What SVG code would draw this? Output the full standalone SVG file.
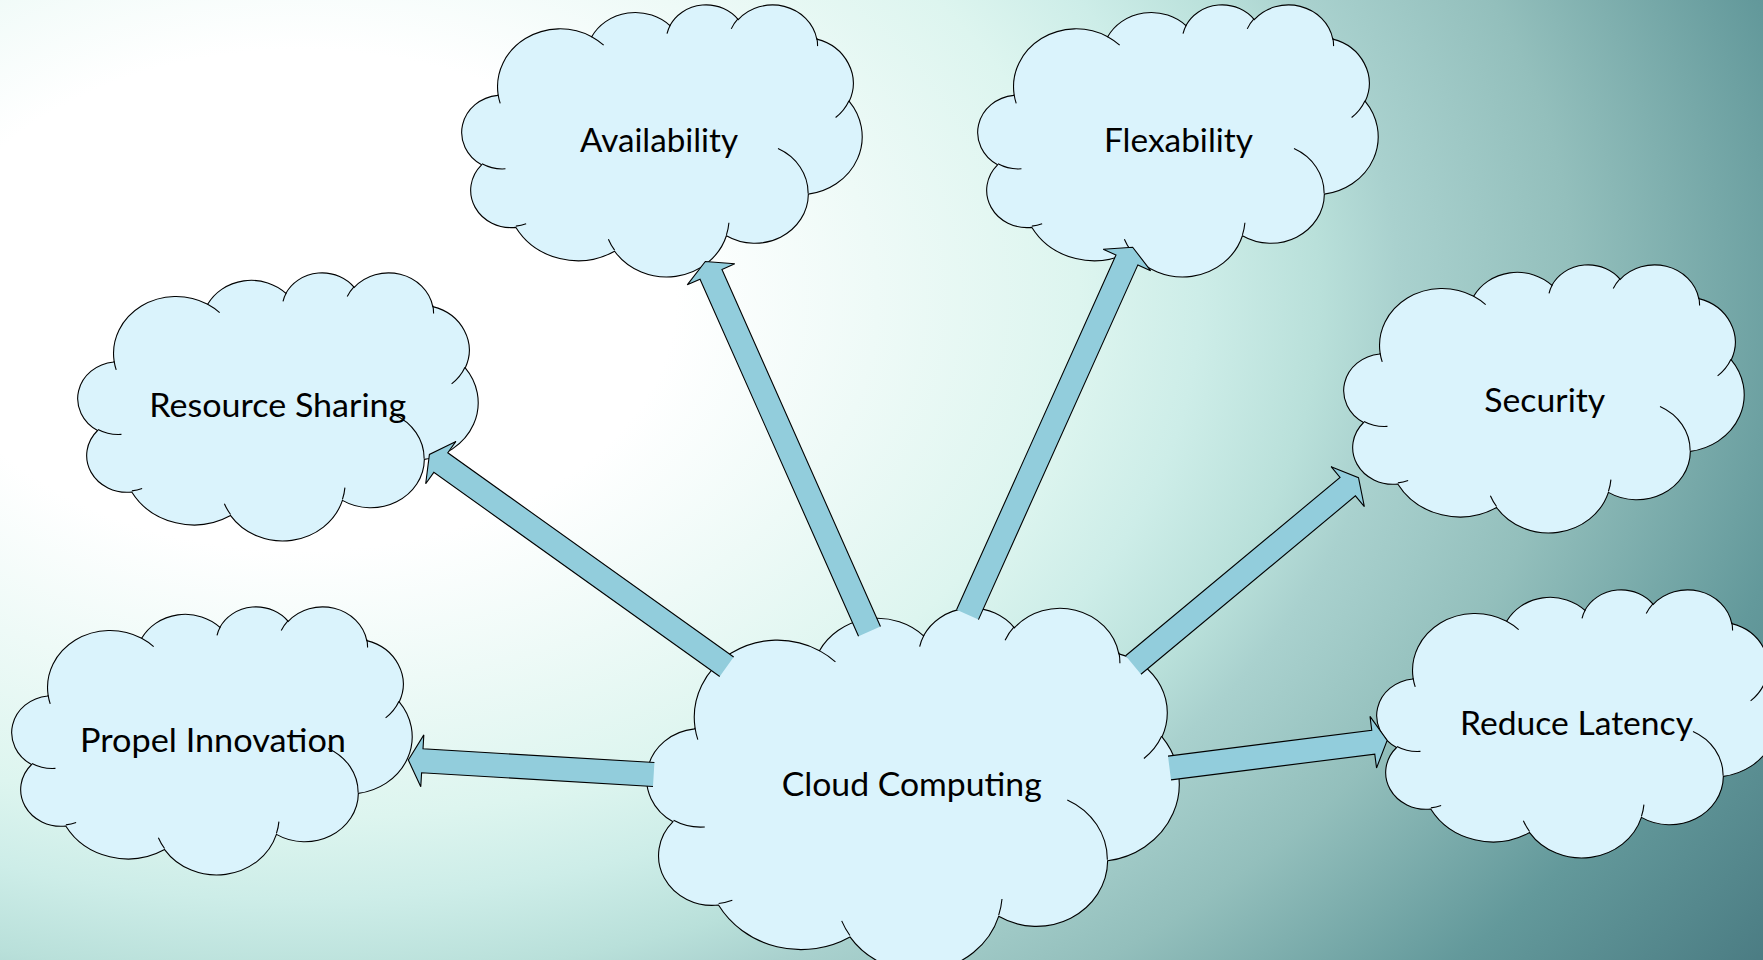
<svg xmlns="http://www.w3.org/2000/svg" xmlns:xlink="http://www.w3.org/1999/xlink" width="1763" height="960" viewBox="0 0 1763 960">
<style>
.cl{fill:#DAF3FC;stroke:#000;stroke-width:1.1;vector-effect:non-scaling-stroke}
.ci{fill:none;stroke:#000;stroke-width:1.1;vector-effect:non-scaling-stroke}
.ar{fill:#92CDDC;stroke:#000;stroke-width:1.1;stroke-linejoin:miter}
.lb{font-family:Lato,"Open Sans","Liberation Sans",sans-serif;font-size:32px;fill:#000}
</style>
<defs>
<radialGradient id="bg" gradientUnits="userSpaceOnUse" cx="300" cy="300" r="1180" gradientTransform="translate(300 300) scale(1.5 1) translate(-300 -300)">
<stop offset="0" stop-color="#FFFFFF"/>
<stop offset="0.212" stop-color="#FFFFFF"/>
<stop offset="0.44" stop-color="#DDF5EF"/>
<stop offset="0.508" stop-color="#CDEDE8"/>
<stop offset="0.576" stop-color="#B9E0DA"/>
<stop offset="0.621" stop-color="#A9D1CE"/>
<stop offset="0.72" stop-color="#93BFBC"/>
<stop offset="0.86" stop-color="#63999B"/>
<stop offset="1" stop-color="#4B7C83"/>
</radialGradient>
<g id="cloud">
<path class="cl" d="M3900 14370 A6753 9190 0 0 1 14005 5202 A5333 7267 0 0 1 22456 3432 A4365 5945 0 0 1 29833 2481 A4857 6595 0 0 1 38318 5576 A5333 7273 0 0 1 41819 15460 A6775 9220 0 0 1 37405 30203 A5785 7867 0 0 1 28556 36813 A6752 9215 0 0 1 16481 39264 A7720 10543 0 0 1 5805 35470 A4360 5918 0 0 1 2114 25548 A4345 5945 0 0 1 3864 14505 Z"/>
<path class="ci" d="M4693 26177 A4345 5945 0 0 1 2160 25380 M6928 34899 A4360 5918 0 0 1 5820 35280 M16478 39090 A6752 9215 0 0 1 15810 37350 M28827 34751 A6752 9215 0 0 1 28560 36660 M34129 22954 A5785 7867 0 0 1 37380 30090 M41798 15354 A5333 7273 0 0 1 40350 18030 M38324 5426 A4857 6595 0 0 1 38400 6690 M29078 3952 A4857 6595 0 0 1 29820 2340 M22141 4720 A4365 5945 0 0 1 22500 3330 M14000 5192 A6753 9190 0 0 1 15300 6541 M4127 15789 A6753 9190 0 0 1 3900 14370"/>
</g>
</defs>
<rect x="0" y="0" width="1763" height="960" fill="url(#bg)"/>

<g id="node-availability">
<use xlink:href="#cloud" href="#cloud" transform="translate(462 4) scale(0.0092593 0.0062963)"/>
<text class="lb" x="580" y="151.7" textLength="158" lengthAdjust="spacingAndGlyphs">Availability</text>
</g>
<g id="node-flexability">
<use xlink:href="#cloud" href="#cloud" transform="translate(978 4) scale(0.0092593 0.0062963)"/>
<text class="lb" x="1104" y="151.7" textLength="149" lengthAdjust="spacingAndGlyphs">Flexability</text>
</g>
<g id="node-resource-sharing">
<use xlink:href="#cloud" href="#cloud" transform="translate(78 272) scale(0.0092593 0.0062037)"/>
<text class="lb" x="149.3" y="416.7" textLength="257" lengthAdjust="spacingAndGlyphs">Resource Sharing</text>
</g>
<g id="node-security">
<use xlink:href="#cloud" href="#cloud" transform="translate(1344 264) scale(0.0092593 0.0062037)"/>
<text class="lb" x="1484.3" y="411.7" textLength="121" lengthAdjust="spacingAndGlyphs">Security</text>
</g>
<g id="node-propel-innovation">
<use xlink:href="#cloud" href="#cloud" transform="translate(12 606) scale(0.0092593 0.0062037)"/>
<text class="lb" x="80" y="751.7" textLength="266" lengthAdjust="spacingAndGlyphs">Propel Innovation</text>
</g>
<g id="node-reduce-latency">
<use xlink:href="#cloud" href="#cloud" transform="translate(1377 589) scale(0.0092593 0.0062037)"/>
<text class="lb" x="1460" y="735" textLength="233" lengthAdjust="spacingAndGlyphs">Reduce Latency</text>
</g>
<g id="node-cloud-computing">
<use xlink:href="#cloud" href="#cloud" transform="translate(647 607) scale(0.0123148 0.0084028)"/>
<text class="lb" x="781.7" y="796" textLength="260" lengthAdjust="spacingAndGlyphs">Cloud Computing</text>
</g>

<g id="connectors">
<path class="ar" transform="translate(869.5 631.3) rotate(-113.94)" d="M0 -12 H390.6 V-26 L404.6 0 L390.6 26 V12 H0"/>
<path class="ar" transform="translate(967.5 614.7) rotate(-65.8)" d="M0 -12 H388.9 V-26 L402.9 0 L388.9 26 V12 H0"/>
<path class="ar" transform="translate(726.7 666.7) rotate(-144.47)" d="M0 -12 H351.3 V-26 L365.3 0 L351.3 26 V12 H0"/>
<path class="ar" transform="translate(653.7 774.5) rotate(-176.62)" d="M0 -12 H231.8 V-26 L245.8 0 L231.8 26 V12 H0"/>
<path class="ar" transform="translate(1133.3 665) rotate(-39.75)" d="M0 -12 H278.9 V-26 L292.9 0 L278.9 26 V12 H0"/>
<path class="ar" transform="translate(1169.5 768) rotate(-7.22)" d="M0 -12 H205.4 V-26 L219.4 0 L205.4 26 V12 H0"/>
</g>
</svg>
